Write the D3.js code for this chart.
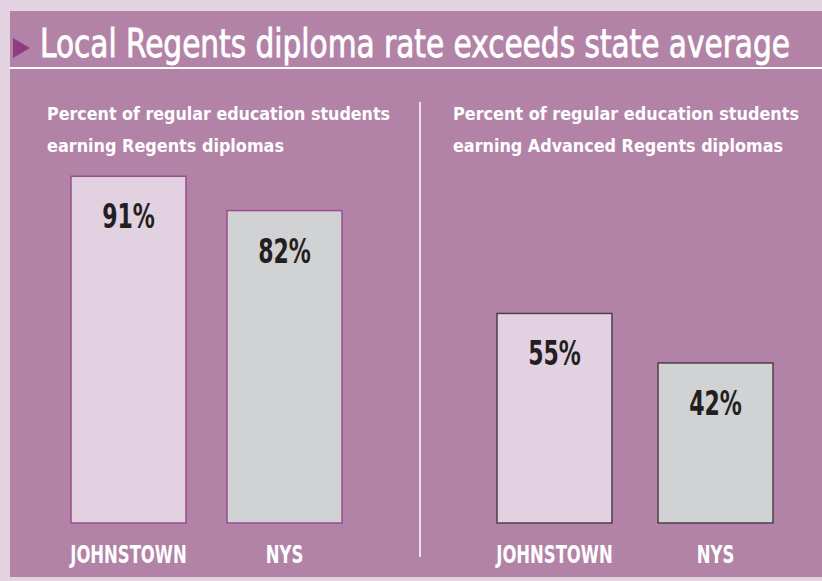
<!DOCTYPE html>
<html>
<head>
<meta charset="utf-8">
<script src="https://cdn.jsdelivr.net/npm/d3@7"></script>
<style>
  body { margin: 0; background: #e3d3e1; }
  svg { display: block; }
</style>
</head>
<body>
<script>
// data
const title = "Local Regents diploma rate exceeds state average";
const categories = ["JOHNSTOWN", "NYS"];
const regentsRate = [91, 82];
const advancedRate = [55, 42];
const subtitles = [
  ["Percent of regular education students", "earning Regents diplomas"],
  ["Percent of regular education students", "earning Advanced Regents diplomas"]
];

const w = 822, h = 581;
const font = "'Liberation Sans Narrow', 'DejaVu Sans Condensed', 'Open Sans', sans-serif";
const boldFont = "'DejaVu Sans Condensed', 'DejaVu Sans', sans-serif";
const purple = "#b383a7";
const fills = ["#e2d1e1", "#d1d2d4"];

// squeeze text horizontally to mimic the condensed typeface
function condense(sel, k) {
  sel.each(function () {
    const l = this.getComputedTextLength();
    this.setAttribute("textLength", l * k);
    this.setAttribute("lengthAdjust", "spacingAndGlyphs");
  });
}

const svg = d3.select("body").append("svg")
  .attr("width", w).attr("height", h)
  .style("font-family", font);

// background frame
svg.append("rect").attr("width", w).attr("height", h).attr("fill", "#e3d3e1");
svg.append("rect").attr("x", 10).attr("y", 11).attr("width", w - 10).attr("height", 566)
  .attr("fill", purple);

// title
svg.append("path").attr("d", "M13,38 L30,48 L13,58 Z").attr("fill", "#8e3d80");
svg.append("text").attr("x", 40).attr("y", 57)
  .attr("fill", "#fff").attr("font-size", 39)
  .attr("stroke", "#fff").attr("stroke-width", 0.8)
  .attr("textLength", 750).attr("lengthAdjust", "spacingAndGlyphs")
  .text(title);
svg.append("line").attr("x1", 10).attr("x2", w).attr("y1", 68).attr("y2", 68)
  .attr("stroke", "#fff").attr("stroke-width", 2);

// divider
svg.append("line").attr("x1", 420).attr("x2", 420).attr("y1", 102).attr("y2", 557)
  .attr("stroke", "#fff").attr("stroke-width", 1.5);

const y = d3.scaleLinear().domain([0, 100]).range([523, 142]);

const panels = [
  { data: regentsRate, range: [71, 342], pad: 0.263, stroke: "#9a4d8f", sub: subtitles[0], sx: 47, sw: [343, 237] },
  { data: advancedRate, range: [497, 773], pad: 0.286, stroke: "#4d3f4b", sub: subtitles[1], sx: 453, sw: [346, 330] }
];

panels.forEach(p => {
  const x = d3.scaleBand().domain(categories).range(p.range).paddingInner(p.pad);
  const g = svg.append("g");

  g.selectAll("text.sub").data(p.sub).join("text")
    .attr("class", "sub")
    .attr("x", p.sx).attr("y", (d, i) => 120 + i * 32)
    .attr("fill", "#fff").attr("font-size", 18).attr("font-weight", "bold")
    .style("font-family", boldFont)
    .attr("textLength", (d, i) => p.sw[i]).attr("lengthAdjust", "spacingAndGlyphs")
    .text(d => d);

  g.selectAll("rect").data(p.data).join("rect")
    .attr("x", (d, i) => x(categories[i]))
    .attr("y", d => y(d))
    .attr("width", x.bandwidth())
    .attr("height", d => y(0) - y(d))
    .attr("fill", (d, i) => fills[i])
    .attr("stroke", p.stroke).attr("stroke-width", 1.5);

  g.selectAll("text.val").data(p.data).join("text")
    .attr("class", "val")
    .attr("x", (d, i) => x(categories[i]) + x.bandwidth() / 2)
    .attr("y", d => y(d) + 52)
    .attr("text-anchor", "middle")
    .attr("fill", "#231f20").attr("font-size", 34).attr("font-weight", "bold")
    .style("font-family", boldFont)
    .text(d => d + "%")
    .call(condense, 0.72);

  g.selectAll("text.cat").data(categories).join("text")
    .attr("class", "cat")
    .attr("x", d => x(d) + x.bandwidth() / 2)
    .attr("y", 563)
    .attr("text-anchor", "middle")
    .attr("fill", "#fff").attr("font-size", 25).attr("font-weight", "bold")
    .style("font-family", boldFont)
    .text(d => d)
    .call(condense, 0.73);
});
</script>
</body>
</html>
